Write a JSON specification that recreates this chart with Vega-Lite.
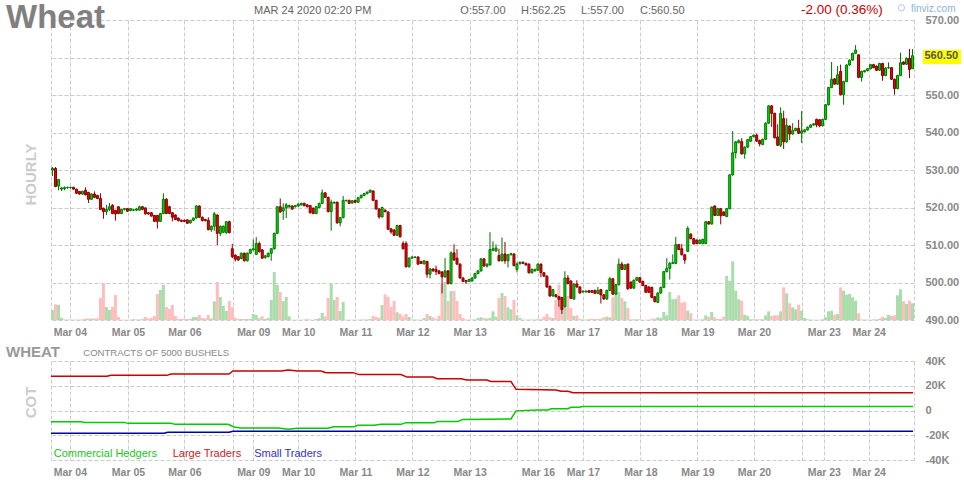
{
"$schema": "https://vega.github.io/schema/vega-lite/v6.json",
"autosize": {"type": "pad"},
"padding": {"left": 5, "top": 2, "right": 0, "bottom": 0},
"background": "white",
"bounds": "flush",
"spacing": 41,
"config": {
  "font": "Liberation Sans",
  "view": {"stroke": null},
  "scale": {"continuousPadding": 0},
  "axis": {"gridColor": "#cccccc", "gridDash": [4, 2], "gridWidth": 1, "ticks": false, "domain": false, "labelColor": "#888888", "labelFont": "Liberation Sans", "labelFontWeight": "bold", "labelFontSize": 11, "labelOverlap": false}
},
"datasets": {
"ohlc": [
{"i":0,"o":530.0,"h":530.8,"l":528.4,"c":530.4,"v":1000},
{"i":1,"o":530.4,"h":530.8,"l":525.4,"c":525.6,"v":1570},
{"i":2,"o":525.7,"h":527.6,"l":524.6,"c":527.5,"v":1500},
{"i":3,"o":524.9,"h":525.5,"l":524.4,"c":525.2,"v":230},
{"i":4,"o":525.0,"h":525.6,"l":524.6,"c":525.3,"v":50},
{"i":5,"o":525.3,"h":525.5,"l":525.0,"c":525.4,"v":40},
{"i":6,"o":525.3,"h":525.5,"l":525.0,"c":525.4,"v":40},
{"i":7,"o":525.4,"h":525.5,"l":524.8,"c":524.9,"v":40},
{"i":8,"o":524.9,"h":525.0,"l":523.6,"c":523.8,"v":50},
{"i":9,"o":524.3,"h":524.4,"l":523.4,"c":523.6,"v":50},
{"i":10,"o":523.6,"h":524.5,"l":523.4,"c":524.3,"v":60},
{"i":11,"o":524.6,"h":525.4,"l":523.2,"c":523.4,"v":150},
{"i":12,"o":524.0,"h":524.2,"l":521.2,"c":522.2,"v":150},
{"i":13,"o":522.2,"h":523.8,"l":522.0,"c":523.6,"v":150},
{"i":14,"o":523.6,"h":524.3,"l":522.5,"c":522.7,"v":150},
{"i":15,"o":523.2,"h":523.4,"l":522.2,"c":522.4,"v":150},
{"i":16,"o":522.4,"h":523.8,"l":519.3,"c":519.5,"v":2200},
{"i":17,"o":519.8,"h":520.0,"l":517.0,"c":518.9,"v":3700},
{"i":18,"o":518.9,"h":520.7,"l":518.0,"c":519.5,"v":1300},
{"i":19,"o":519.5,"h":521.2,"l":519.0,"c":520.2,"v":1000},
{"i":20,"o":520.6,"h":520.9,"l":518.2,"c":518.4,"v":1300},
{"i":21,"o":519.2,"h":519.4,"l":516.5,"c":518.3,"v":2500},
{"i":22,"o":520.2,"h":520.3,"l":518.2,"c":518.4,"v":300},
{"i":23,"o":518.4,"h":519.6,"l":518.2,"c":519.5,"v":30},
{"i":24,"o":519.5,"h":519.9,"l":519.2,"c":519.7,"v":30},
{"i":25,"o":519.7,"h":519.9,"l":518.8,"c":519.0,"v":30},
{"i":26,"o":519.2,"h":519.8,"l":519.0,"c":519.7,"v":30},
{"i":27,"o":519.3,"h":519.5,"l":519.0,"c":519.4,"v":80},
{"i":28,"o":519.3,"h":519.9,"l":519.0,"c":519.6,"v":50},
{"i":29,"o":519.3,"h":520.5,"l":519.2,"c":520.2,"v":50},
{"i":30,"o":520.2,"h":520.4,"l":519.3,"c":519.5,"v":100},
{"i":31,"o":519.9,"h":520.0,"l":518.1,"c":518.3,"v":300},
{"i":32,"o":518.6,"h":518.8,"l":518.1,"c":518.3,"v":150},
{"i":33,"o":518.6,"h":518.8,"l":517.6,"c":517.7,"v":200},
{"i":34,"o":517.9,"h":518.0,"l":516.2,"c":516.3,"v":400},
{"i":35,"o":517.9,"h":518.0,"l":514.4,"c":516.3,"v":2600},
{"i":36,"o":516.3,"h":518.6,"l":516.2,"c":518.4,"v":3000},
{"i":37,"o":518.4,"h":523.8,"l":518.2,"c":522.2,"v":3500},
{"i":38,"o":522.2,"h":522.5,"l":518.2,"c":518.4,"v":1300},
{"i":39,"o":520.2,"h":520.5,"l":518.2,"c":518.4,"v":1100},
{"i":40,"o":518.6,"h":518.8,"l":516.3,"c":517.4,"v":1500},
{"i":41,"o":518.0,"h":518.2,"l":516.6,"c":516.8,"v":400},
{"i":42,"o":517.2,"h":517.3,"l":516.3,"c":516.5,"v":100},
{"i":43,"o":516.6,"h":516.8,"l":516.1,"c":516.3,"v":100},
{"i":44,"o":516.6,"h":516.8,"l":516.1,"c":516.3,"v":100},
{"i":45,"o":516.7,"h":516.8,"l":515.6,"c":515.8,"v":100},
{"i":46,"o":515.9,"h":516.7,"l":515.7,"c":516.6,"v":100},
{"i":47,"o":516.6,"h":517.3,"l":516.4,"c":517.2,"v":300},
{"i":48,"o":517.2,"h":520.6,"l":517.0,"c":520.4,"v":300},
{"i":49,"o":520.4,"h":520.6,"l":517.2,"c":517.4,"v":500},
{"i":50,"o":517.4,"h":517.6,"l":516.3,"c":516.5,"v":200},
{"i":51,"o":516.8,"h":517.0,"l":516.3,"c":516.5,"v":150},
{"i":52,"o":516.6,"h":517.4,"l":513.9,"c":514.1,"v":500},
{"i":53,"o":514.1,"h":515.2,"l":513.5,"c":515.0,"v":150},
{"i":54,"o":515.0,"h":518.8,"l":513.8,"c":518.3,"v":1870},
{"i":55,"o":518.0,"h":518.2,"l":510.0,"c":513.1,"v":3800},
{"i":56,"o":513.1,"h":515.2,"l":512.4,"c":515.0,"v":2300},
{"i":57,"o":513.4,"h":515.2,"l":513.2,"c":515.0,"v":1400},
{"i":58,"o":513.3,"h":516.3,"l":513.0,"c":516.2,"v":900},
{"i":59,"o":516.2,"h":516.5,"l":513.1,"c":513.3,"v":1900},
{"i":60,"o":509.0,"h":510.3,"l":506.5,"c":506.9,"v":1300},
{"i":61,"o":507.3,"h":507.5,"l":505.6,"c":506.2,"v":230},
{"i":62,"o":506.9,"h":507.0,"l":505.8,"c":506.0,"v":100},
{"i":63,"o":506.4,"h":508.0,"l":506.2,"c":507.8,"v":100},
{"i":64,"o":507.8,"h":508.0,"l":505.6,"c":505.8,"v":100},
{"i":65,"o":505.8,"h":508.0,"l":505.6,"c":507.8,"v":100},
{"i":66,"o":507.8,"h":509.0,"l":507.6,"c":508.8,"v":100},
{"i":67,"o":508.7,"h":511.5,"l":508.5,"c":509.0,"v":600},
{"i":68,"o":507.5,"h":512.1,"l":507.3,"c":510.4,"v":500},
{"i":69,"o":510.4,"h":510.9,"l":508.0,"c":508.2,"v":200},
{"i":70,"o":508.7,"h":508.9,"l":506.3,"c":506.5,"v":370},
{"i":71,"o":506.7,"h":507.4,"l":506.3,"c":507.1,"v":100},
{"i":72,"o":506.9,"h":508.0,"l":506.7,"c":507.8,"v":200},
{"i":73,"o":507.8,"h":509.2,"l":505.8,"c":509.0,"v":2000},
{"i":74,"o":509.0,"h":513.3,"l":508.8,"c":513.1,"v":4800},
{"i":75,"o":513.1,"h":520.4,"l":512.9,"c":520.2,"v":3500},
{"i":76,"o":520.2,"h":522.4,"l":518.6,"c":518.8,"v":2800},
{"i":77,"o":519.1,"h":521.1,"l":516.7,"c":519.9,"v":1900},
{"i":78,"o":519.9,"h":521.2,"l":517.2,"c":520.7,"v":2300},
{"i":79,"o":520.2,"h":520.8,"l":519.9,"c":520.5,"v":370},
{"i":80,"o":520.4,"h":520.6,"l":519.4,"c":519.6,"v":30},
{"i":81,"o":520.2,"h":520.7,"l":520.0,"c":520.5,"v":30},
{"i":82,"o":520.4,"h":521.1,"l":520.2,"c":520.9,"v":30},
{"i":83,"o":520.7,"h":521.3,"l":520.5,"c":521.1,"v":30},
{"i":84,"o":521.1,"h":521.3,"l":520.3,"c":520.5,"v":50},
{"i":85,"o":520.7,"h":520.9,"l":520.0,"c":520.2,"v":100},
{"i":86,"o":520.5,"h":520.7,"l":518.4,"c":518.6,"v":50},
{"i":87,"o":519.8,"h":520.0,"l":518.2,"c":518.4,"v":30},
{"i":88,"o":518.4,"h":520.4,"l":518.2,"c":520.2,"v":100},
{"i":89,"o":520.0,"h":521.3,"l":519.8,"c":521.1,"v":170},
{"i":90,"o":521.1,"h":524.8,"l":520.9,"c":523.9,"v":700},
{"i":91,"o":523.9,"h":524.1,"l":522.5,"c":522.7,"v":370},
{"i":92,"o":522.7,"h":522.9,"l":518.7,"c":518.9,"v":2200},
{"i":93,"o":518.9,"h":522.1,"l":513.8,"c":521.4,"v":3600},
{"i":94,"o":521.2,"h":521.6,"l":521.0,"c":521.4,"v":2000},
{"i":95,"o":521.4,"h":521.6,"l":515.7,"c":515.9,"v":2300},
{"i":96,"o":515.9,"h":517.5,"l":515.0,"c":517.3,"v":900},
{"i":97,"o":517.3,"h":523.1,"l":517.1,"c":521.9,"v":1800},
{"i":98,"o":521.8,"h":522.1,"l":521.6,"c":521.9,"v":30},
{"i":99,"o":521.9,"h":522.1,"l":520.9,"c":521.1,"v":30},
{"i":100,"o":521.2,"h":522.0,"l":521.0,"c":521.8,"v":30},
{"i":101,"o":521.9,"h":522.1,"l":521.2,"c":521.4,"v":30},
{"i":102,"o":521.4,"h":522.8,"l":521.2,"c":522.6,"v":30},
{"i":103,"o":522.6,"h":523.5,"l":522.4,"c":523.2,"v":50},
{"i":104,"o":523.2,"h":523.9,"l":523.0,"c":523.7,"v":50},
{"i":105,"o":523.7,"h":524.3,"l":523.5,"c":524.1,"v":50},
{"i":106,"o":524.1,"h":524.8,"l":523.9,"c":524.6,"v":100},
{"i":107,"o":524.4,"h":524.6,"l":521.7,"c":521.9,"v":430},
{"i":108,"o":521.9,"h":522.1,"l":519.4,"c":519.6,"v":300},
{"i":109,"o":519.6,"h":519.8,"l":517.0,"c":517.5,"v":230},
{"i":110,"o":517.5,"h":520.2,"l":517.3,"c":520.0,"v":1500},
{"i":111,"o":519.3,"h":519.5,"l":518.7,"c":518.9,"v":2570},
{"i":112,"o":518.8,"h":519.0,"l":514.0,"c":514.2,"v":2300},
{"i":113,"o":514.3,"h":514.5,"l":513.0,"c":513.5,"v":1300},
{"i":114,"o":514.0,"h":514.2,"l":512.4,"c":512.6,"v":1900},
{"i":115,"o":512.6,"h":515.4,"l":512.4,"c":515.2,"v":770},
{"i":116,"o":515.2,"h":515.4,"l":512.0,"c":512.2,"v":630},
{"i":117,"o":510.4,"h":511.0,"l":508.8,"c":509.0,"v":370},
{"i":118,"o":510.4,"h":511.0,"l":504.0,"c":504.2,"v":600},
{"i":119,"o":504.2,"h":506.7,"l":504.0,"c":506.5,"v":300},
{"i":120,"o":506.5,"h":507.0,"l":506.3,"c":506.8,"v":50},
{"i":121,"o":506.7,"h":507.0,"l":506.5,"c":506.8,"v":50},
{"i":122,"o":506.8,"h":507.0,"l":504.7,"c":504.9,"v":50},
{"i":123,"o":505.6,"h":505.8,"l":504.9,"c":505.1,"v":50},
{"i":124,"o":505.0,"h":506.0,"l":504.8,"c":505.8,"v":200},
{"i":125,"o":505.6,"h":505.8,"l":501.3,"c":502.2,"v":600},
{"i":126,"o":502.2,"h":503.8,"l":501.1,"c":503.6,"v":400},
{"i":127,"o":503.6,"h":503.8,"l":502.9,"c":503.1,"v":270},
{"i":128,"o":503.5,"h":504.5,"l":502.0,"c":502.9,"v":100},
{"i":129,"o":503.1,"h":503.3,"l":502.2,"c":502.4,"v":430},
{"i":130,"o":502.8,"h":503.0,"l":497.1,"c":501.5,"v":3600},
{"i":131,"o":501.5,"h":506.5,"l":501.3,"c":503.1,"v":3800},
{"i":132,"o":503.1,"h":503.3,"l":499.5,"c":499.7,"v":1900},
{"i":133,"o":499.7,"h":508.3,"l":499.5,"c":507.9,"v":2900},
{"i":134,"o":507.9,"h":510.2,"l":505.8,"c":506.0,"v":2900},
{"i":135,"o":506.5,"h":508.9,"l":504.7,"c":504.9,"v":1900},
{"i":136,"o":504.9,"h":505.1,"l":501.0,"c":501.2,"v":600},
{"i":137,"o":501.2,"h":501.4,"l":500.1,"c":500.3,"v":200},
{"i":138,"o":500.5,"h":500.7,"l":499.6,"c":500.2,"v":50},
{"i":139,"o":500.3,"h":501.0,"l":500.1,"c":500.8,"v":50},
{"i":140,"o":500.4,"h":501.4,"l":500.2,"c":501.2,"v":50},
{"i":141,"o":501.2,"h":502.6,"l":501.0,"c":502.4,"v":50},
{"i":142,"o":502.4,"h":503.3,"l":502.2,"c":503.1,"v":200},
{"i":143,"o":503.1,"h":506.5,"l":502.9,"c":506.3,"v":270},
{"i":144,"o":506.3,"h":506.5,"l":504.2,"c":504.4,"v":200},
{"i":145,"o":504.4,"h":505.1,"l":504.0,"c":504.9,"v":150},
{"i":146,"o":504.7,"h":513.4,"l":504.5,"c":508.8,"v":200},
{"i":147,"o":508.6,"h":511.0,"l":508.4,"c":509.0,"v":870},
{"i":148,"o":508.4,"h":510.2,"l":508.2,"c":509.2,"v":330},
{"i":149,"o":507.2,"h":509.0,"l":505.6,"c":505.8,"v":2200},
{"i":150,"o":505.8,"h":512.0,"l":505.6,"c":507.6,"v":2700},
{"i":151,"o":507.6,"h":510.8,"l":505.0,"c":505.8,"v":2400},
{"i":152,"o":505.8,"h":507.6,"l":504.0,"c":507.4,"v":1270},
{"i":153,"o":507.4,"h":507.9,"l":507.2,"c":507.7,"v":1070},
{"i":154,"o":507.6,"h":507.8,"l":504.3,"c":504.5,"v":2000},
{"i":155,"o":503.5,"h":505.4,"l":502.7,"c":504.9,"v":470},
{"i":156,"o":505.0,"h":505.6,"l":504.8,"c":505.4,"v":200},
{"i":157,"o":505.4,"h":505.6,"l":504.9,"c":505.1,"v":50},
{"i":158,"o":505.1,"h":505.3,"l":504.5,"c":504.7,"v":50},
{"i":159,"o":504.9,"h":505.1,"l":502.4,"c":502.6,"v":50},
{"i":160,"o":502.6,"h":503.7,"l":502.4,"c":503.5,"v":50},
{"i":161,"o":503.1,"h":503.7,"l":502.9,"c":503.5,"v":50},
{"i":162,"o":503.3,"h":505.1,"l":503.1,"c":504.9,"v":80},
{"i":163,"o":504.9,"h":505.1,"l":501.4,"c":502.6,"v":100},
{"i":164,"o":502.6,"h":502.8,"l":501.5,"c":501.7,"v":330},
{"i":165,"o":501.7,"h":501.9,"l":498.6,"c":498.8,"v":600},
{"i":166,"o":499.0,"h":499.2,"l":496.2,"c":496.4,"v":270},
{"i":167,"o":496.4,"h":498.3,"l":496.2,"c":498.1,"v":200},
{"i":168,"o":496.7,"h":496.9,"l":496.0,"c":496.2,"v":2000},
{"i":169,"o":496.2,"h":496.4,"l":493.5,"c":495.5,"v":3500},
{"i":170,"o":496.0,"h":496.2,"l":491.6,"c":492.8,"v":1270},
{"i":171,"o":493.5,"h":503.0,"l":493.3,"c":501.2,"v":1200},
{"i":172,"o":501.2,"h":502.0,"l":499.5,"c":499.7,"v":2400},
{"i":173,"o":500.4,"h":500.6,"l":495.6,"c":495.8,"v":1200},
{"i":174,"o":495.6,"h":499.8,"l":495.4,"c":499.6,"v":400},
{"i":175,"o":499.6,"h":500.6,"l":498.6,"c":498.8,"v":470},
{"i":176,"o":498.8,"h":499.0,"l":497.0,"c":497.2,"v":100},
{"i":177,"o":497.5,"h":497.9,"l":497.3,"c":497.7,"v":50},
{"i":178,"o":497.5,"h":497.9,"l":497.3,"c":497.7,"v":50},
{"i":179,"o":497.8,"h":498.0,"l":497.2,"c":497.4,"v":100},
{"i":180,"o":497.8,"h":498.0,"l":497.2,"c":497.4,"v":100},
{"i":181,"o":497.9,"h":498.1,"l":496.9,"c":497.1,"v":100},
{"i":182,"o":497.1,"h":498.8,"l":496.9,"c":497.9,"v":100},
{"i":183,"o":498.1,"h":498.3,"l":494.4,"c":496.7,"v":130},
{"i":184,"o":496.7,"h":496.9,"l":495.4,"c":495.6,"v":270},
{"i":185,"o":495.6,"h":498.1,"l":495.4,"c":497.9,"v":330},
{"i":186,"o":497.9,"h":501.5,"l":497.7,"c":501.0,"v":270},
{"i":187,"o":501.0,"h":501.2,"l":496.7,"c":496.9,"v":2270},
{"i":188,"o":496.9,"h":499.6,"l":496.7,"c":499.4,"v":3300},
{"i":189,"o":499.4,"h":506.4,"l":499.2,"c":504.9,"v":2800},
{"i":190,"o":504.9,"h":505.5,"l":503.3,"c":503.5,"v":2200},
{"i":191,"o":503.5,"h":504.9,"l":503.3,"c":504.7,"v":1870},
{"i":192,"o":504.9,"h":505.1,"l":498.1,"c":498.3,"v":1200},
{"i":193,"o":500.1,"h":500.3,"l":498.3,"c":498.5,"v":70},
{"i":194,"o":498.5,"h":500.8,"l":498.3,"c":500.6,"v":70},
{"i":195,"o":500.6,"h":501.5,"l":500.4,"c":501.3,"v":70},
{"i":196,"o":501.3,"h":501.5,"l":499.9,"c":500.1,"v":70},
{"i":197,"o":500.3,"h":500.5,"l":499.0,"c":499.2,"v":30},
{"i":198,"o":499.2,"h":499.4,"l":497.2,"c":497.4,"v":30},
{"i":199,"o":498.8,"h":499.0,"l":497.2,"c":497.4,"v":30},
{"i":200,"o":498.7,"h":498.9,"l":495.8,"c":496.0,"v":130},
{"i":201,"o":496.2,"h":496.4,"l":494.7,"c":494.9,"v":130},
{"i":202,"o":494.7,"h":497.4,"l":494.5,"c":497.2,"v":270},
{"i":203,"o":497.2,"h":498.9,"l":497.0,"c":498.7,"v":200},
{"i":204,"o":498.7,"h":503.1,"l":498.5,"c":502.9,"v":800},
{"i":205,"o":502.9,"h":506.5,"l":502.7,"c":503.8,"v":470},
{"i":206,"o":503.8,"h":505.5,"l":500.8,"c":505.1,"v":2800},
{"i":207,"o":505.1,"h":507.5,"l":504.9,"c":505.3,"v":2070},
{"i":208,"o":505.1,"h":512.2,"l":504.9,"c":510.1,"v":2130},
{"i":209,"o":510.1,"h":510.3,"l":508.6,"c":508.8,"v":2470},
{"i":210,"o":509.0,"h":510.3,"l":507.2,"c":507.4,"v":1730},
{"i":211,"o":507.4,"h":507.6,"l":505.0,"c":506.0,"v":1800},
{"i":212,"o":508.3,"h":515.0,"l":508.1,"c":514.4,"v":930},
{"i":213,"o":512.9,"h":513.1,"l":511.5,"c":511.7,"v":670},
{"i":214,"o":511.7,"h":511.9,"l":510.1,"c":510.3,"v":50},
{"i":215,"o":511.3,"h":511.5,"l":510.2,"c":510.4,"v":50},
{"i":216,"o":510.4,"h":511.5,"l":510.2,"c":511.3,"v":50},
{"i":217,"o":510.4,"h":511.7,"l":510.2,"c":511.5,"v":70},
{"i":218,"o":510.4,"h":516.4,"l":510.2,"c":516.2,"v":470},
{"i":219,"o":516.2,"h":516.4,"l":515.4,"c":515.6,"v":330},
{"i":220,"o":515.6,"h":520.3,"l":515.4,"c":520.1,"v":800},
{"i":221,"o":520.4,"h":520.6,"l":517.7,"c":517.9,"v":270},
{"i":222,"o":517.9,"h":519.9,"l":517.7,"c":519.7,"v":100},
{"i":223,"o":519.7,"h":519.9,"l":515.5,"c":517.8,"v":100},
{"i":224,"o":518.8,"h":519.0,"l":517.7,"c":517.9,"v":330},
{"i":225,"o":517.6,"h":519.9,"l":517.4,"c":519.7,"v":4400},
{"i":226,"o":519.7,"h":528.9,"l":519.5,"c":528.7,"v":3930},
{"i":227,"o":528.7,"h":540.4,"l":528.5,"c":534.6,"v":5870},
{"i":228,"o":534.6,"h":537.7,"l":533.1,"c":537.5,"v":2930},
{"i":229,"o":537.3,"h":538.2,"l":537.1,"c":537.8,"v":2070},
{"i":230,"o":537.6,"h":538.5,"l":534.1,"c":534.3,"v":1930},
{"i":231,"o":534.3,"h":536.3,"l":533.0,"c":536.1,"v":530},
{"i":232,"o":536.1,"h":538.3,"l":535.9,"c":538.1,"v":400},
{"i":233,"o":537.7,"h":539.1,"l":537.5,"c":538.9,"v":70},
{"i":234,"o":538.9,"h":539.5,"l":538.7,"c":539.3,"v":70},
{"i":235,"o":539.3,"h":539.7,"l":537.5,"c":537.7,"v":70},
{"i":236,"o":537.9,"h":538.1,"l":536.3,"c":537.0,"v":70},
{"i":237,"o":536.8,"h":538.4,"l":536.6,"c":538.2,"v":70},
{"i":238,"o":538.2,"h":542.7,"l":538.0,"c":542.5,"v":470},
{"i":239,"o":542.5,"h":547.3,"l":542.3,"c":547.1,"v":870},
{"i":240,"o":547.1,"h":547.3,"l":541.5,"c":545.1,"v":400},
{"i":241,"o":545.1,"h":545.3,"l":538.4,"c":538.6,"v":470},
{"i":242,"o":538.8,"h":542.2,"l":536.4,"c":536.6,"v":470},
{"i":243,"o":536.6,"h":546.7,"l":536.1,"c":545.1,"v":870},
{"i":244,"o":543.7,"h":545.8,"l":535.6,"c":537.5,"v":3270},
{"i":245,"o":537.5,"h":543.8,"l":537.3,"c":541.9,"v":2670},
{"i":246,"o":541.7,"h":541.9,"l":538.0,"c":539.6,"v":1670},
{"i":247,"o":539.6,"h":542.5,"l":539.4,"c":540.5,"v":1270},
{"i":248,"o":540.5,"h":541.3,"l":540.3,"c":541.1,"v":1070},
{"i":249,"o":541.1,"h":543.4,"l":539.6,"c":539.8,"v":1530},
{"i":250,"o":539.8,"h":545.7,"l":537.2,"c":540.4,"v":930},
{"i":251,"o":540.2,"h":540.9,"l":540.0,"c":540.7,"v":200},
{"i":252,"o":540.7,"h":541.6,"l":540.5,"c":541.4,"v":70},
{"i":253,"o":541.4,"h":542.2,"l":541.2,"c":542.0,"v":30},
{"i":254,"o":542.0,"h":542.5,"l":541.8,"c":542.3,"v":30},
{"i":255,"o":543.5,"h":543.7,"l":541.4,"c":542.0,"v":30},
{"i":256,"o":543.4,"h":543.6,"l":541.4,"c":541.8,"v":30},
{"i":257,"o":541.8,"h":543.7,"l":541.6,"c":543.5,"v":70},
{"i":258,"o":543.5,"h":547.6,"l":543.3,"c":547.4,"v":270},
{"i":259,"o":547.4,"h":552.2,"l":547.2,"c":552.0,"v":870},
{"i":260,"o":552.0,"h":558.8,"l":551.8,"c":554.2,"v":930},
{"i":261,"o":554.3,"h":554.5,"l":552.7,"c":552.9,"v":530},
{"i":262,"o":552.9,"h":557.7,"l":552.7,"c":555.4,"v":600},
{"i":263,"o":556.3,"h":558.1,"l":549.9,"c":550.1,"v":3270},
{"i":264,"o":550.1,"h":553.8,"l":547.4,"c":553.6,"v":2930},
{"i":265,"o":553.6,"h":558.2,"l":553.4,"c":558.0,"v":2530},
{"i":266,"o":558.0,"h":559.5,"l":557.8,"c":559.3,"v":2600},
{"i":267,"o":559.3,"h":561.3,"l":559.1,"c":561.1,"v":2270},
{"i":268,"o":561.1,"h":563.3,"l":560.9,"c":562.0,"v":1930},
{"i":269,"o":560.7,"h":560.9,"l":554.5,"c":554.7,"v":670},
{"i":270,"o":554.7,"h":556.5,"l":553.6,"c":556.3,"v":50},
{"i":271,"o":556.2,"h":556.7,"l":556.0,"c":556.5,"v":50},
{"i":272,"o":556.5,"h":557.2,"l":556.3,"c":557.0,"v":30},
{"i":273,"o":557.0,"h":558.3,"l":556.8,"c":558.1,"v":30},
{"i":274,"o":558.1,"h":558.3,"l":557.1,"c":557.3,"v":70},
{"i":275,"o":557.7,"h":557.9,"l":556.4,"c":556.6,"v":70},
{"i":276,"o":556.6,"h":558.6,"l":556.4,"c":558.4,"v":130},
{"i":277,"o":558.4,"h":558.6,"l":553.8,"c":555.2,"v":330},
{"i":278,"o":555.2,"h":557.4,"l":555.0,"c":557.2,"v":200},
{"i":279,"o":557.2,"h":558.7,"l":557.0,"c":557.3,"v":530},
{"i":280,"o":557.3,"h":557.5,"l":554.0,"c":554.2,"v":400},
{"i":281,"o":554.2,"h":554.4,"l":550.1,"c":551.7,"v":470},
{"i":282,"o":551.7,"h":555.4,"l":551.5,"c":555.2,"v":2470},
{"i":283,"o":555.2,"h":561.3,"l":555.0,"c":558.6,"v":3070},
{"i":284,"o":558.8,"h":559.0,"l":558.0,"c":558.2,"v":1870},
{"i":285,"o":558.2,"h":560.0,"l":558.0,"c":559.8,"v":1600},
{"i":286,"o":559.8,"h":562.3,"l":554.5,"c":556.8,"v":1930},
{"i":287,"o":557.0,"h":562.25,"l":557.0,"c":560.5,"v":1670}
],
"cot": [
{"i":-0.5,"s":"Large Traders","v":27600},
{"i":18.2,"s":"Large Traders","v":27600},
{"i":19.5,"s":"Large Traders","v":28400},
{"i":38.2,"s":"Large Traders","v":28400},
{"i":39.5,"s":"Large Traders","v":29500},
{"i":58.9,"s":"Large Traders","v":29500},
{"i":60.2,"s":"Large Traders","v":31900},
{"i":76.3,"s":"Large Traders","v":31900},
{"i":78.6,"s":"Large Traders","v":32700},
{"i":81.9,"s":"Large Traders","v":31900},
{"i":89.6,"s":"Large Traders","v":31900},
{"i":91.3,"s":"Large Traders","v":30600},
{"i":100.3,"s":"Large Traders","v":30600},
{"i":102.3,"s":"Large Traders","v":29000},
{"i":116.3,"s":"Large Traders","v":29000},
{"i":118.3,"s":"Large Traders","v":27000},
{"i":127,"s":"Large Traders","v":27000},
{"i":128.3,"s":"Large Traders","v":25700},
{"i":136.3,"s":"Large Traders","v":25700},
{"i":138.3,"s":"Large Traders","v":24600},
{"i":145,"s":"Large Traders","v":24600},
{"i":146.3,"s":"Large Traders","v":23400},
{"i":153,"s":"Large Traders","v":23400},
{"i":154.7,"s":"Large Traders","v":17100},
{"i":168,"s":"Large Traders","v":16500},
{"i":169.7,"s":"Large Traders","v":15500},
{"i":172,"s":"Large Traders","v":15500},
{"i":173.7,"s":"Large Traders","v":14400},
{"i":287.2,"s":"Large Traders","v":14400},
{"i":-0.5,"s":"Commercial Hedgers","v":-9000},
{"i":9.5,"s":"Commercial Hedgers","v":-9000},
{"i":10.8,"s":"Commercial Hedgers","v":-9600},
{"i":23.9,"s":"Commercial Hedgers","v":-9600},
{"i":25.2,"s":"Commercial Hedgers","v":-10400},
{"i":39.5,"s":"Commercial Hedgers","v":-10400},
{"i":40.9,"s":"Commercial Hedgers","v":-11200},
{"i":58.6,"s":"Commercial Hedgers","v":-11200},
{"i":60.6,"s":"Commercial Hedgers","v":-13300},
{"i":62.9,"s":"Commercial Hedgers","v":-14100},
{"i":75.3,"s":"Commercial Hedgers","v":-14100},
{"i":78.6,"s":"Commercial Hedgers","v":-15200},
{"i":81.9,"s":"Commercial Hedgers","v":-14400},
{"i":91.9,"s":"Commercial Hedgers","v":-14400},
{"i":93.9,"s":"Commercial Hedgers","v":-13100},
{"i":100.6,"s":"Commercial Hedgers","v":-13100},
{"i":101.9,"s":"Commercial Hedgers","v":-12000},
{"i":107.3,"s":"Commercial Hedgers","v":-12000},
{"i":109.6,"s":"Commercial Hedgers","v":-11200},
{"i":116.3,"s":"Commercial Hedgers","v":-11200},
{"i":118,"s":"Commercial Hedgers","v":-9800},
{"i":127.3,"s":"Commercial Hedgers","v":-9800},
{"i":128.6,"s":"Commercial Hedgers","v":-8800},
{"i":135.3,"s":"Commercial Hedgers","v":-8800},
{"i":137,"s":"Commercial Hedgers","v":-7200},
{"i":153,"s":"Commercial Hedgers","v":-6800},
{"i":154.7,"s":"Commercial Hedgers","v":-300},
{"i":162,"s":"Commercial Hedgers","v":500},
{"i":165.4,"s":"Commercial Hedgers","v":500},
{"i":166.4,"s":"Commercial Hedgers","v":1400},
{"i":172,"s":"Commercial Hedgers","v":1400},
{"i":173,"s":"Commercial Hedgers","v":2600},
{"i":175.7,"s":"Commercial Hedgers","v":2600},
{"i":177,"s":"Commercial Hedgers","v":3200},
{"i":287.2,"s":"Commercial Hedgers","v":3200},
{"i":-0.5,"s":"Small Traders","v":-18400},
{"i":37.2,"s":"Small Traders","v":-18400},
{"i":38.5,"s":"Small Traders","v":-17600},
{"i":58.9,"s":"Small Traders","v":-17600},
{"i":60.2,"s":"Small Traders","v":-16800},
{"i":287.2,"s":"Small Traders","v":-16800}
]
},
"vconcat": [
{
  "width": 863,
  "height": 300,
  "data": {"name": "ohlc"},
  "layer": [
    {
      "mark": {"type": "bar", "size": 3, "orient": "vertical"},
      "encoding": {
        "x": {"field": "i", "type": "quantitative", "scale": {"domain": [-0.5, 287.5], "nice": false, "zero": false, "padding": 0},
              "axis": {"orient": "bottom", "title": null, "grid": true, "labelFontSize": 10.5, "labelPadding": 7, "labelOverlap": false, "labelFlush": false,
                       "values": [-0.5,5.8,25.2,44,60.2,67,82,101.1,120.1,139.2,155,162,177,196.2,215.2,234.1,250.1,257.4,272.4,287.5],
                       "labelExpr": "['','Mar 04','Mar 05','Mar 06','','Mar 09','Mar 10','Mar 11','Mar 12','Mar 13','','Mar 16','Mar 17','Mar 18','Mar 19','Mar 20','','Mar 23','Mar 24',''][indexof([-0.5,5.8,25.2,44,60.2,67,82,101.1,120.1,139.2,155,162,177,196.2,215.2,234.1,250.1,257.4,272.4,287.5], datum.value)]"}},
        "y": {"field": "v", "type": "quantitative", "scale": {"domain": [0, 30000], "nice": false}, "axis": null},
        "color": {"condition": {"test": "datum.c >= datum.o", "value": "#abdcab"}, "value": "#ffbdbd"}
      }
    },
    {
      "layer": [
        {
          "mark": {"type": "rule", "strokeWidth": 1},
          "encoding": {
            "x": {"field": "i", "type": "quantitative", "axis": {"title": null}},
            "y": {"field": "l", "type": "quantitative", "scale": {"domain": [490, 570], "nice": false, "zero": false},
                  "axis": {"orient": "right", "title": null, "grid": true, "labelPadding": 11, "labelOverlap": false, "labelFlush": false,
                           "values": [490,500,510,520,530,540,550,560,570],
                           "labelExpr": "datum.value == 560 ? '' : format(datum.value, '.2f')"}},
            "y2": {"field": "h"},
            "color": {"condition": {"test": "datum.c >= datum.o", "value": "#007000"}, "value": "#8b0000"}
          }
        },
        {
          "mark": {"type": "bar", "size": 2, "strokeWidth": 1},
          "encoding": {
            "x": {"field": "i", "type": "quantitative", "axis": {"title": null}},
            "y": {"field": "o", "type": "quantitative", "scale": {"domain": [490, 570], "nice": false, "zero": false},
                  "axis": {"orient": "right", "title": null, "grid": true, "labelPadding": 11, "labelOverlap": false, "labelFlush": false,
                           "values": [490,500,510,520,530,540,550,560,570],
                           "labelExpr": "datum.value == 560 ? '' : format(datum.value, '.2f')"}},
            "y2": {"field": "c"},
            "fill": {"condition": {"test": "datum.c >= datum.o", "value": "#00dd00"}, "value": "#ee0000"},
            "stroke": {"condition": {"test": "datum.c >= datum.o", "value": "#007800"}, "value": "#8b0000"}
          }
        }
      ]
    },
    {
      "layer": [
        {
          "data": {"values": [{}]},
          "mark": {"type": "text", "align": "left", "baseline": "top", "fontSize": 33, "fontWeight": "bold", "color": "#808080"},
          "encoding": {"x": {"datum": -15.52, "type": "quantitative", "axis": {"title": null}}, "y": {"datum": 574.67, "type": "quantitative", "scale": {"domain": [490, 570], "nice": false, "zero": false}, "axis": null}, "text": {"value": "Wheat"}}
        },
        {
          "data": {"values": [{}]},
          "mark": {"type": "text", "align": "left", "baseline": "top", "fontSize": 11, "color": "#666666"},
          "encoding": {"x": {"datum": 67.25, "type": "quantitative", "axis": {"title": null}}, "y": {"datum": 573.87, "type": "quantitative", "scale": {"domain": [490, 570], "nice": false, "zero": false}, "axis": null}, "text": {"value": "MAR 24 2020 02:20 PM"}}
        },
        {
          "data": {"values": [{}]},
          "mark": {"type": "text", "align": "left", "baseline": "top", "fontSize": 11, "color": "#666666"},
          "encoding": {"x": {"datum": 136.1, "type": "quantitative", "axis": {"title": null}}, "y": {"datum": 573.87, "type": "quantitative", "scale": {"domain": [490, 570], "nice": false, "zero": false}, "axis": null}, "text": {"value": "O:557.00"}}
        },
        {
          "data": {"values": [{}]},
          "mark": {"type": "text", "align": "left", "baseline": "top", "fontSize": 11, "color": "#666666"},
          "encoding": {"x": {"datum": 156.35, "type": "quantitative", "axis": {"title": null}}, "y": {"datum": 573.87, "type": "quantitative", "scale": {"domain": [490, 570], "nice": false, "zero": false}, "axis": null}, "text": {"value": "H:562.25"}}
        },
        {
          "data": {"values": [{}]},
          "mark": {"type": "text", "align": "left", "baseline": "top", "fontSize": 11, "color": "#666666"},
          "encoding": {"x": {"datum": 176.4, "type": "quantitative", "axis": {"title": null}}, "y": {"datum": 573.87, "type": "quantitative", "scale": {"domain": [490, 570], "nice": false, "zero": false}, "axis": null}, "text": {"value": "L:557.00"}}
        },
        {
          "data": {"values": [{}]},
          "mark": {"type": "text", "align": "left", "baseline": "top", "fontSize": 11, "color": "#666666"},
          "encoding": {"x": {"datum": 196.06, "type": "quantitative", "axis": {"title": null}}, "y": {"datum": 573.87, "type": "quantitative", "scale": {"domain": [490, 570], "nice": false, "zero": false}, "axis": null}, "text": {"value": "C:560.50"}}
        },
        {
          "data": {"values": [{}]},
          "mark": {"type": "text", "align": "left", "baseline": "top", "fontSize": 13.5, "color": "#cc0000"},
          "encoding": {"x": {"datum": 249.8, "type": "quantitative", "axis": {"title": null}}, "y": {"datum": 574.53, "type": "quantitative", "scale": {"domain": [490, 570], "nice": false, "zero": false}, "axis": null}, "text": {"value": "-2.00 (0.36%)"}}
        },
        {
          "data": {"values": [{}]},
          "mark": {"type": "point", "shape": "circle", "size": 40, "filled": false, "stroke": "#8ab4e0", "strokeWidth": 1},
          "encoding": {"x": {"datum": 283.3, "type": "quantitative", "axis": {"title": null}}, "y": {"datum": 573.25, "type": "quantitative", "scale": {"domain": [490, 570], "nice": false, "zero": false}, "axis": null}}
        },
        {
          "data": {"values": [{}]},
          "mark": {"type": "text", "align": "left", "baseline": "top", "fontSize": 10, "color": "#8ab4e0"},
          "encoding": {"x": {"datum": 286.5, "type": "quantitative", "axis": {"title": null}}, "y": {"datum": 574.27, "type": "quantitative", "scale": {"domain": [490, 570], "nice": false, "zero": false}, "axis": null}, "text": {"value": "finviz.com"}}
        },
        {
          "data": {"values": [{}]},
          "mark": {"type": "text", "align": "center", "baseline": "middle", "fontSize": 15, "fontWeight": "bold", "color": "#cccccc", "angle": 270},
          "encoding": {"x": {"datum": -7.17, "type": "quantitative", "axis": {"title": null}}, "y": {"datum": 528.8, "type": "quantitative", "scale": {"domain": [490, 570], "nice": false, "zero": false}, "axis": null}, "text": {"value": "HOURLY"}}
        },
        {
          "data": {"values": [{}]},
          "mark": {"type": "rect", "color": "#ffff00"},
          "encoding": {"x": {"datum": 290.5, "type": "quantitative", "axis": {"title": null}}, "x2": {"datum": 303.2}, "y": {"datum": 562.05, "type": "quantitative", "scale": {"domain": [490, 570], "nice": false, "zero": false}, "axis": null}, "y2": {"datum": 558.27}}
        },
        {
          "data": {"values": [{}]},
          "mark": {"type": "text", "align": "left", "baseline": "middle", "fontSize": 11, "fontWeight": "bold", "color": "#555555"},
          "encoding": {"x": {"datum": 291.0, "type": "quantitative", "axis": {"title": null}}, "y": {"datum": 560.4, "type": "quantitative", "scale": {"domain": [490, 570], "nice": false, "zero": false}, "axis": null}, "text": {"value": "560.50"}}
        }
      ]
    }
  ],
  "resolve": {"scale": {"y": "independent"}}
},
{
  "width": 863,
  "height": 99,
  "layer": [
    {
      "data": {"name": "cot"},
      "mark": {"type": "line", "strokeWidth": 1.5},
      "encoding": {
        "x": {"field": "i", "type": "quantitative", "scale": {"domain": [-0.5, 287.5], "nice": false, "zero": false, "padding": 0},
              "axis": {"orient": "bottom", "title": null, "grid": true, "labelFontSize": 10.5, "labelPadding": 7, "labelOverlap": false, "labelFlush": false,
                       "values": [-0.5,5.8,25.2,44,60.2,67,82,101.1,120.1,139.2,155,162,177,196.2,215.2,234.1,250.1,257.4,272.4,287.5],
                       "labelExpr": "['','Mar 04','Mar 05','Mar 06','','Mar 09','Mar 10','Mar 11','Mar 12','Mar 13','','Mar 16','Mar 17','Mar 18','Mar 19','Mar 20','','Mar 23','Mar 24',''][indexof([-0.5,5.8,25.2,44,60.2,67,82,101.1,120.1,139.2,155,162,177,196.2,215.2,234.1,250.1,257.4,272.4,287.5], datum.value)]"}},
        "y": {"field": "v", "type": "quantitative", "scale": {"domain": [-40000, 40000], "nice": false},
              "axis": {"orient": "right", "title": null, "grid": true, "labelPadding": 11, "labelOverlap": false, "labelFlush": false,
                       "values": [-40000, -20000, 0, 20000, 40000],
                       "labelExpr": "datum.value == 0 ? '0' : (datum.value / 1000) + 'K'"}},
        "color": {"field": "s", "type": "nominal", "scale": {"domain": ["Commercial Hedgers", "Large Traders", "Small Traders"], "range": ["#00cc00", "#cc0000", "#0000aa"]}, "legend": null}
      }
    },
    {
      "layer": [
        {
          "data": {"values": [{}]},
          "mark": {"type": "text", "align": "left", "baseline": "middle", "fontSize": 15, "fontWeight": "bold", "color": "#999999"},
          "encoding": {"x": {"datum": -15.52, "type": "quantitative", "axis": {"title": null}}, "y": {"datum": 47273, "type": "quantitative", "scale": {"domain": [-40000, 40000], "nice": false}, "axis": null}, "text": {"value": "WHEAT"}}
        },
        {
          "data": {"values": [{}]},
          "mark": {"type": "text", "align": "left", "baseline": "middle", "fontSize": 9.5, "color": "#888888"},
          "encoding": {"x": {"datum": 10.3, "type": "quantitative", "axis": {"title": null}}, "y": {"datum": 46222, "type": "quantitative", "scale": {"domain": [-40000, 40000], "nice": false}, "axis": null}, "text": {"value": "CONTRACTS OF 5000 BUSHELS"}}
        },
        {
          "data": {"values": [{}]},
          "mark": {"type": "text", "align": "center", "baseline": "middle", "fontSize": 15, "fontWeight": "bold", "color": "#cccccc", "angle": 270},
          "encoding": {"x": {"datum": -7.17, "type": "quantitative", "axis": {"title": null}}, "y": {"datum": 6465, "type": "quantitative", "scale": {"domain": [-40000, 40000], "nice": false}, "axis": null}, "text": {"value": "COT"}}
        },
        {
          "data": {"values": [{}]},
          "mark": {"type": "text", "align": "left", "baseline": "middle", "fontSize": 11, "color": "#22c422"},
          "encoding": {"x": {"datum": 0.4, "type": "quantitative", "axis": {"title": null}}, "y": {"datum": -35152, "type": "quantitative", "scale": {"domain": [-40000, 40000], "nice": false}, "axis": null}, "text": {"value": "Commercial Hedgers"}}
        },
        {
          "data": {"values": [{}]},
          "mark": {"type": "text", "align": "left", "baseline": "middle", "fontSize": 11, "color": "#cc2222"},
          "encoding": {"x": {"datum": 40.1, "type": "quantitative", "axis": {"title": null}}, "y": {"datum": -35152, "type": "quantitative", "scale": {"domain": [-40000, 40000], "nice": false}, "axis": null}, "text": {"value": "Large Traders"}}
        },
        {
          "data": {"values": [{}]},
          "mark": {"type": "text", "align": "left", "baseline": "middle", "fontSize": 11, "color": "#3333cc"},
          "encoding": {"x": {"datum": 67.3, "type": "quantitative", "axis": {"title": null}}, "y": {"datum": -35152, "type": "quantitative", "scale": {"domain": [-40000, 40000], "nice": false}, "axis": null}, "text": {"value": "Small Traders"}}
        }
      ]
    }
  ],
  "resolve": {"scale": {"y": "independent"}}
}
]
}
